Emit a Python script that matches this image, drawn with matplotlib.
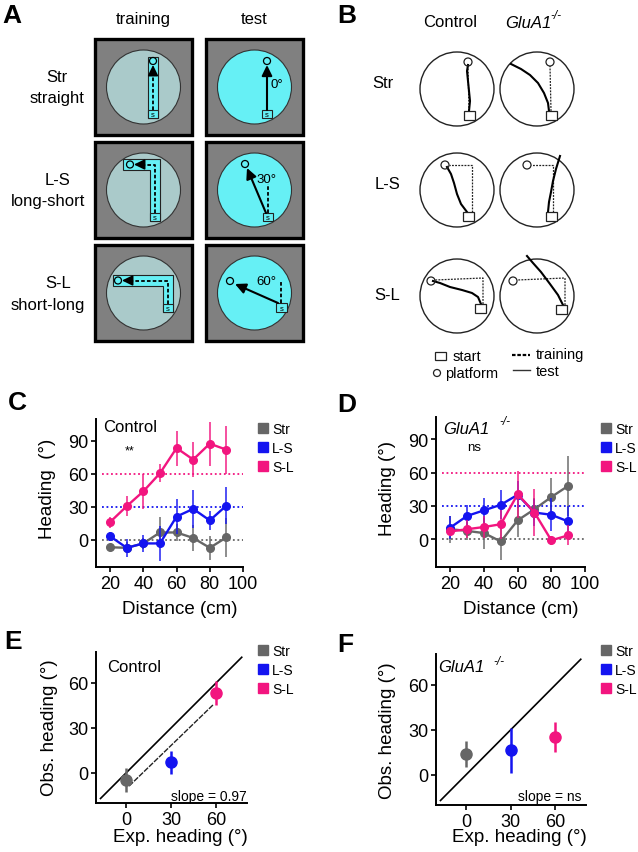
import numpy as np
import matplotlib
matplotlib.use("Agg")
import matplotlib.pyplot as plt
from matplotlib.patches import Rectangle, Circle, Polygon
from matplotlib.lines import Line2D

plt.rcParams['font.family'] = ['Liberation Sans', 'DejaVu Sans']

W, H = 638, 853

# ---- data ----
groups = ['Str', 'L-S', 'S-L']
colors = ['#666666', '#1414f0', '#f2157f']
expected = [0, 30, 60]

dist = [20, 30, 40, 50, 60, 70, 80, 90]

C_str = [-7, -7.5, -3.5, 6.5, 6.5, 1.5, -7.5, 2]
C_str_err = [3, 5, 5, 14, 8, 12, 11, 18]
C_ls = [3, -7.5, -3.5, -3.5, 21, 28, 17.5, 31]
C_ls_err = [4, 8, 8, 16, 16, 17.5, 9, 17]
C_sl = [16, 30.5, 44, 60.5, 83.5, 73, 87.5, 82]
C_sl_err = [5, 9, 16, 8, 16, 16, 20, 22]

D_str = [9, 7.5, 5.5, -2, 17, 27, 38, 48]
D_str_err = [12, 8, 14, 17, 15, 10, 17, 27]
D_ls = [10.5, 21, 26, 31, 40, 24, 22, 16]
D_ls_err = [10, 10, 11, 13, 12, 12, 15, 14]
D_sl = [7, 9, 11, 13.5, 40.5, 24, -1, 3.5]
D_sl_err = [4, 8, 10, 13, 21, 21, 4, 9]

exp_heading = [0, 30, 60]
E_obs = [-5, 7, 53]
E_err = [8, 7.5, 8]
F_obs = [14, 16.5, 25]
F_err = [8.5, 15, 10]
identity = [-17, 77]

fig = plt.figure(figsize=(W / 100, H / 100), dpi=100)

# overlay in pixel coordinates for the drawings and free text
ov = fig.add_axes([0, 0, 1, 1])
ov.set_xlim(0, W)
ov.set_ylim(H, 0)
ov.axis('off')


def px_axes(x0, y0, x1, y1):
    return fig.add_axes([x0 / W, 1 - y1 / H, (x1 - x0) / W, (y1 - y0) / H])


def txt(x, y, s, ha='center', **kw):
    ov.text(x, y, s, ha=ha, va='center', **kw)


def arrow(tail, tip, lw=1.5, hw=0.22, hl=0.45):
    ov.annotate('', xy=tip, xytext=tail,
                arrowprops=dict(arrowstyle='-|>,head_length=%s,head_width=%s' % (hl, hw),
                                lw=lw, color='k', shrinkA=0, shrinkB=0, mutation_scale=14))


def dashed(xs, ys, lw=1.3, dash=(2, 1.2)):
    ov.plot(xs, ys, color='k', lw=lw, ls=(0, dash), solid_capstyle='butt')


# panel letters
for lab, x, y in [('A', 12, 16), ('B', 347, 16), ('C', 17, 403),
                  ('D', 347, 405), ('E', 13, 642), ('F', 345, 645)]:
    txt(x, y, lab, fontsize=19, fontweight='bold')

# ---------------- panel A ----------------
cyan = '#66f0f5'
light = '#aacaca'
txt(143, 19, 'training', fontsize=12)
txt(254, 19, 'test', fontsize=12)
for s, x, y in [('Str', 57, 77), ('straight', 57, 98), ('L-S', 58, 180),
                ('long-short', 48, 201), ('S-L', 58, 283), ('short-long', 48, 305)]:
    txt(x, y, s, fontsize=12)

row_y0 = [40, 143, 246]
col_x0 = [95, 206]
for r, y0 in enumerate(row_y0):
    for c, x0 in enumerate(col_x0):
        ov.add_patch(Rectangle((x0, y0), 97, 96, fc='#808080', ec='k', lw=2.4))
        ov.add_patch(Circle((x0 + 48.5, y0 + 48), 37, fc=light if c == 0 else cyan,
                            ec='#333333', lw=0.8))


def sbox(x0, y0, w=10, h=8, fc=cyan, letter=True):
    ov.add_patch(Rectangle((x0, y0), w, h, fc=fc, ec='#222222', lw=0.8, zorder=3))
    if letter:
        txt(x0 + w / 2, y0 + h / 2 + 0.5, 's', fontsize=5.5, zorder=4)


def plat(x, y, r=3.5, fc=cyan):
    ov.add_patch(Circle((x, y), r, fc=fc, ec='k', lw=0.9, zorder=4))


# training row 1
ov.add_patch(Rectangle((148, 58), 10, 61, fc=cyan, ec='#222222', lw=0.8))
sbox(148, 111)
plat(153, 62)
dashed([153, 153], [111, 74])
arrow((153, 76), (153, 66), lw=1.2)
# training row 2
ov.add_patch(Polygon([(123, 160), (160, 160), (160, 222), (150, 222), (150, 171), (123, 171)],
                     closed=True, fc=cyan, ec='#222222', lw=0.8))
sbox(150, 214)
plat(130, 165.5)
dashed([155, 155, 142], [214, 165.5, 165.5])
arrow((144, 165.5), (134, 165.5), lw=1.2)
# training row 3
ov.add_patch(Polygon([(113, 276), (173, 276), (173, 313), (163, 313), (163, 287), (113, 287)],
                     closed=True, fc=cyan, ec='#222222', lw=0.8))
sbox(163, 305)
plat(118, 281.5)
dashed([168, 168, 130], [305, 281.5, 281.5])
arrow((132, 281.5), (122, 281.5), lw=1.2)

# test row 1
sbox(262, 111)
plat(267, 62, fc='none')
arrow((267, 111), (267, 66))
txt(277, 85, '0°', fontsize=9.5)
# test row 2
sbox(263, 214)
plat(245, 165, fc='none')
dashed([268, 268], [214, 185])
arrow((266, 214), (247, 169))
txt(266, 180, '30°', fontsize=9.5)
# test row 3
sbox(276, 304, w=11, h=9)
plat(230, 282, fc='none')
dashed([281, 281], [304, 282])
arrow((278, 304), (235, 285))
txt(266, 282, '60°', fontsize=9.5)

# ---------------- panel B ----------------
txt(450, 22, 'Control', fontsize=12)
txt(505, 23, 'GluA1', ha='left', fontsize=12, style='italic')
txt(550, 16, '-/-', ha='left', fontsize=8.5, style='italic')
for s, x, y in [('Str', 383, 83), ('L-S', 387, 184), ('S-L', 387, 295)]:
    txt(x, y, s, fontsize=12)

circ_y = [90, 191, 297]
circ_x = [457, 537]
for cy in circ_y:
    for cx in circ_x:
        ov.add_patch(Circle((cx, cy), 37, fc='none', ec='#222222', lw=1.0))

squares = [(464, 112), (546, 112), (463, 213), (546, 213), (475, 305), (556, 306)]
for x0, y0 in squares:
    ov.add_patch(Rectangle((x0, y0), 11, 9, fc='white', ec='#222222', lw=0.9, zorder=3))
platforms = [(468, 63), (550, 63), (445, 166), (527, 166), (431, 282), (513, 282)]
for x, y in platforms:
    ov.add_patch(Circle((x, y), 4, fc='none', ec='#222222', lw=0.9, zorder=3))

train_paths = [
    ([469, 468], [112, 67]),
    ([551, 550], [112, 67]),
    ([472, 472, 449], [213, 166, 166]),
    ([553, 553, 531], [213, 166, 166]),
    ([483, 483, 435], [305, 279, 281]),
    ([565, 565, 517], [306, 279, 281]),
]
for xs, ys in train_paths:
    ov.plot(xs, ys, color='#222222', lw=0.9, ls=(0, (1.5, 1)))

test_paths = [
    ([469, 470, 469, 468, 467, 468], [112, 102, 92, 82, 72, 66]),
    ([549, 548, 544, 538, 530, 521, 511], [112, 104, 94, 84, 76, 70, 65]),
    ([467, 461, 457, 454, 451, 447], [213, 205, 195, 184, 175, 168]),
    ([548, 549, 551, 553, 556, 560], [213, 203, 193, 182, 170, 157]),
    ([481, 478, 472, 462, 450, 440, 433], [305, 298, 294, 291, 288, 284, 282]),
    ([563, 558, 550, 541, 533, 527], [306, 296, 285, 273, 264, 257]),
]
for xs, ys in test_paths:
    ov.plot(xs, ys, color='k', lw=1.5)

# legend of B
ov.add_patch(Rectangle((435, 353), 11, 8, fc='none', ec='#222222', lw=0.9))
txt(453, 357, 'start', ha='left', fontsize=10.5)
ov.add_patch(Circle((437, 374), 3.5, fc='none', ec='#222222', lw=0.9))
txt(445, 374, 'platform', ha='left', fontsize=10.5)
ov.plot([512, 530], [356, 356], color='k', lw=1.6, ls=(0, (1.6, 0.8)))
txt(536, 355, 'training', ha='left', fontsize=10.5)
ov.plot([513, 530], [371, 371], color='#333333', lw=1.0)
txt(536, 372, 'test', ha='left', fontsize=10.5)


# ---------------- data panels ----------------
def style(ax):
    for s in ['top', 'right']:
        ax.spines[s].set_visible(False)
    for s in ['left', 'bottom']:
        ax.spines[s].set_linewidth(1.4)
    ax.tick_params(width=1.2, length=3.5, labelsize=13, pad=2)
    ax.patch.set_alpha(0)


def legend(ax, x, y):
    handles = [Line2D([], [], marker='s', ls='', color=c, ms=7) for c in colors]
    ax.legend(handles, groups, loc='upper left', bbox_to_anchor=(x / W, 1 - y / H),
              bbox_transform=fig.transFigure, frameon=False, fontsize=10,
              handlelength=0.7, handletextpad=0.3, labelspacing=0.35,
              borderpad=0, borderaxespad=0)


def heading_panel(ax, series, errs):
    for v, c in zip(expected, colors):
        ax.plot([15, 100], [v, v], ls=(0, (1, 1.5)), color=c, lw=1.3)
    for y, e, c in zip(series, errs, colors):
        y = np.array(y)
        e = np.array(e)
        ax.vlines(dist, y - e, y + e, color=c, lw=1.4, alpha=0.75)
        ax.plot(dist, y, '-o', color=c, lw=1.7, ms=5.5)
    ax.set_xlim(11.5, 100)
    ax.set_ylim(-25, 110)
    ax.set_xticks([20, 40, 60, 80, 100])
    ax.set_yticks([0, 30, 60, 90])
    style(ax)


axC = px_axes(96, 420, 243, 568)
heading_panel(axC, [C_str, C_ls, C_sl], [C_str_err, C_ls_err, C_sl_err])
legend(axC, 258, 423)
txt(103, 428, 'Control', ha='left', fontsize=12)
txt(130, 451, '**', fontsize=9)
txt(48, 489, 'Heading  (°)', rotation=90, fontsize=13.5)
txt(180, 610, 'Distance (cm)', fontsize=13.5)

axD = px_axes(436, 418, 585, 568)
heading_panel(axD, [D_str, D_ls, D_sl], [D_str_err, D_ls_err, D_sl_err])
legend(axD, 601, 423)
txt(443, 429, 'GluA1', ha='left', fontsize=12, style='italic')
txt(499, 422, '-/-', ha='left', fontsize=8.5, style='italic')
txt(474, 448, 'ns', fontsize=9.5)
txt(388, 489, 'Heading (°)', rotation=90, fontsize=13.5)
txt(521, 610, 'Distance (cm)', fontsize=13.5)


def slope_panel(ax, obs, err, fit=False):
    ax.plot(identity, identity, color='k', lw=1.2)
    if fit:
        k, b = np.polyfit(exp_heading, obs, 1)
        xs = np.array([2, 58])
        ax.plot(xs, k * xs + b, color='#222222', lw=1.0, ls=(0, (4, 1)))
    for x, y, e, c in zip(exp_heading, obs, err, colors):
        ax.vlines(x, y - e, y + e, color=c, lw=1.8)
        ax.plot(x, y, 'o', color=c, ms=8)
    ax.set_xlim(-20, 80.5)
    ax.set_ylim(-20, 80.5)
    ax.set_xticks([0, 30, 60])
    ax.set_yticks([0, 30, 60])
    style(ax)


axE = px_axes(96, 653, 247, 804)
slope_panel(axE, E_obs, E_err, fit=True)
legend(axE, 258, 645)
txt(107, 667, 'Control', ha='left', fontsize=12)
txt(247, 797, 'slope = 0.97', ha='right', fontsize=10)
txt(50, 728, 'Obs. heading (°)', rotation=90, fontsize=13.5)
txt(180, 838, 'Exp. heading (°)', fontsize=13.5)

axF = px_axes(436, 655, 586, 806)
slope_panel(axF, F_obs, F_err)
legend(axF, 601, 645)
txt(438, 668, 'GluA1', ha='left', fontsize=12, style='italic')
txt(493, 662, '-/-', ha='left', fontsize=8.5, style='italic')
txt(582, 797, 'slope = ns', ha='right', fontsize=10)
txt(388, 731, 'Obs. heading (°)', rotation=90, fontsize=13.5)
txt(519, 838, 'Exp. heading (°)', fontsize=13.5)

fig.savefig('out.png', dpi=100)
